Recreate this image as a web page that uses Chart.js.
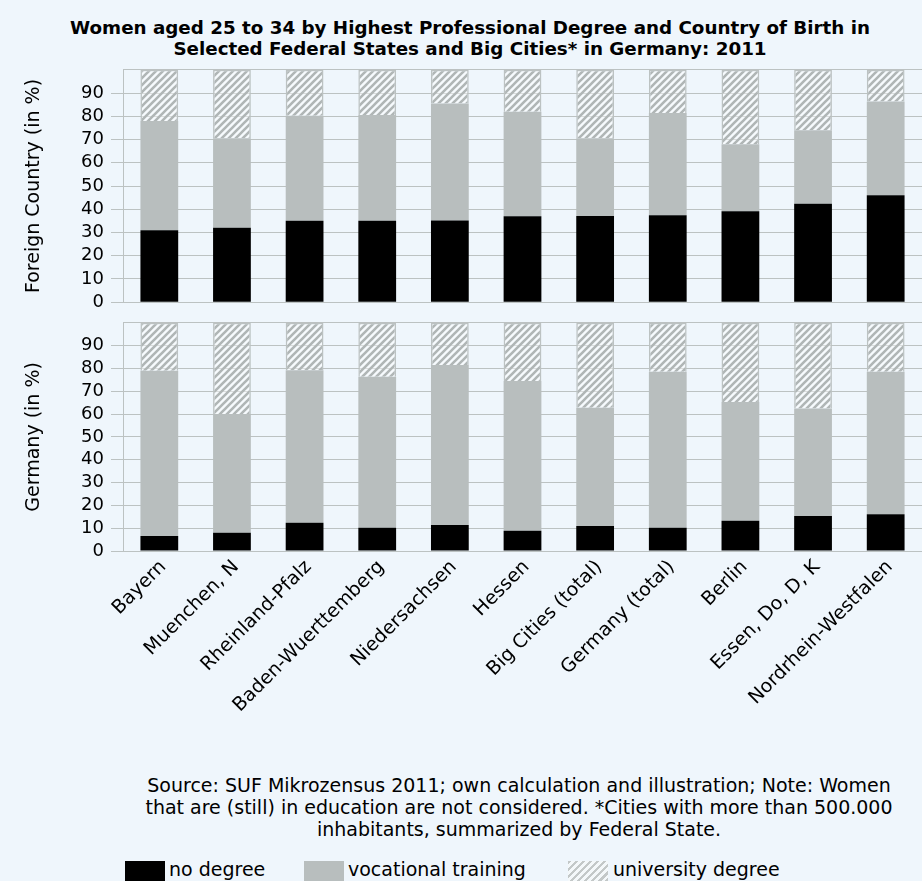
<!DOCTYPE html>
<html>
<head>
<meta charset="utf-8">
<script src="https://cdn.jsdelivr.net/npm/chart.js@4.4.1/dist/chart.umd.min.js"></script>
<style>
  body { margin: 0; background: #eff6fc; font-family: "DejaVu Sans", sans-serif; color: #000; }
  #page { position: relative; width: 922px; height: 881px; overflow: hidden; }
  #title { position: absolute; left: 0; top: 17px; width: 940px; text-align: center; font-weight: bold; font-size: 18.3px; line-height: 21px; }
  #topChart { position: absolute; left: 0; top: 52px; }
  #bottomChart { position: absolute; left: 0; top: 305px; }
  #source { position: absolute; left: 0; top: 774px; width: 1038px; text-align: center; font-size: 19px; line-height: 22px; }
  .leg { position: absolute; top: 858px; font-size: 19px; line-height: 22px; white-space: nowrap; }
  .sw { position: absolute; top: 861px; width: 40px; height: 20px; }
</style>
</head>
<body>
<div id="page">
  <div id="title">Women aged 25 to 34 by Highest Professional Degree and Country of Birth in<br>Selected Federal States and Big Cities* in Germany: 2011</div>
  <canvas id="topChart" width="922" height="268"></canvas>
  <canvas id="bottomChart" width="922" height="430"></canvas>
  <div id="source">Source: SUF Mikrozensus 2011; own calculation and illustration; Note: Women<br>that are (still) in education are not considered. *Cities with more than 500.000<br>inhabitants, summarized by Federal State.</div>
  <div class="sw" style="left:125px;background:#000"></div>
  <div class="leg" style="left:169px">no degree</div>
  <div class="sw" style="left:304px;background:#b8bebe"></div>
  <div class="leg" style="left:348px">vocational training</div>
  <div class="sw" style="left:568px;background:repeating-linear-gradient(135deg,#c3c8c8 0 2.5px,#f4f8fa 2.5px 5px)"></div>
  <div class="leg" style="left:613px">university degree</div>
</div>
<script>
// DATA
const categories = ["Bayern", "Muenchen, N", "Rheinland-Pfalz", "Baden-Wuerttemberg", "Niedersachsen", "Hessen",
  "Big Cities (total)", "Germany (total)", "Berlin", "Essen, Do, D, K", "Nordrhein-Westfalen"];
const yTicks = [0, 10, 20, 30, 40, 50, 60, 70, 80, 90];

// born in a foreign country
const foreignNoDegree = [31, 32, 35, 35, 35.2, 37, 37.1, 37.4, 39.1, 42.4, 46];
const foreignVocational = [47, 38.6, 45.2, 45.6, 50.3, 45, 33.5, 44, 28.9, 31.6, 40.4];
const foreignUniversity = [22, 29.4, 19.8, 19.4, 14.5, 18, 29.4, 18.6, 32, 26, 13.6];

// born in Germany
const germanNoDegree = [6.6, 8, 12.4, 10.2, 11.4, 8.9, 11, 10.2, 13.3, 15.3, 16.1];
const germanVocational = [72.4, 52, 66.8, 66.2, 70.1, 65.6, 51.8, 68.3, 52, 47.2, 62.4];
const germanUniversity = [21, 40, 20.8, 23.6, 18.5, 25.5, 37.2, 21.5, 34.7, 37.5, 21.5];

const FONT = "DejaVu Sans";
const GRID = "#bcc2c2";

// diagonal hatch for university degree
function hatch() {
  const c = document.createElement("canvas");
  c.width = 7; c.height = 7;
  const g = c.getContext("2d");
  g.fillStyle = "rgba(255,255,255,0.45)";
  g.fillRect(0, 0, 7, 7);
  g.strokeStyle = "#b0b6b6";
  g.lineWidth = 2.6;
  g.beginPath();
  g.moveTo(-1, 8); g.lineTo(8, -1);
  g.moveTo(-1, 1); g.lineTo(1, -1);
  g.moveTo(6, 8); g.lineTo(8, 6);
  g.stroke();
  return g.createPattern(c, "repeat");
}

function makeChart(id, noDeg, voc, uni, yTitle, showX) {
  const ctx = document.getElementById(id);
  const xAxis = {
    stacked: true,
    display: showX,
    grid: { display: false, drawTicks: false },
    border: { display: false },
    ticks: {
      autoSkip: false, minRotation: 45, maxRotation: 45,
      padding: 5, labelOffset: 4, color: "#000",
      font: { family: FONT, size: 19 },
    },
  };
  if (showX) xAxis.afterFit = (a) => { a.height = 184; a.paddingLeft = 0; a.paddingRight = 0; };

  return new Chart(ctx, {
    type: "bar",
    data: {
      labels: categories,
      datasets: [
        { label: "no degree", data: noDeg, backgroundColor: "#000", borderWidth: 0 },
        { label: "vocational training", data: voc, backgroundColor: "#b8bebe", borderWidth: 0 },
        { label: "university degree", data: uni, backgroundColor: hatch(), borderColor: GRID, borderWidth: 1.5 },
      ],
    },
    options: {
      responsive: false,
      animation: false,
      layout: { padding: { top: 11, bottom: showX ? 0 : 16, left: 0, right: 0 } },
      datasets: { bar: { categoryPercentage: 1, barPercentage: 0.52 } },
      plugins: { legend: { display: false }, tooltip: { enabled: false } },
      scales: {
        x: xAxis,
        y: {
          stacked: true,
          min: 0, max: 100,
          ticks: {
            stepSize: 10, autoSkip: false, padding: 7, color: "#000",
            font: { family: FONT, size: 18 },
            callback: (v) => (yTicks.includes(v) ? v : ""),
          },
          grid: {
            color: GRID,
            tickLength: 12,
            tickColor: (c) => (c.tick && c.tick.value === 100 ? "rgba(0,0,0,0)" : GRID),
          },
          border: { color: GRID },
          title: {
            display: true, text: yTitle, color: "#000",
            font: { family: FONT, size: 19 },
            padding: { top: 23, bottom: 0 },
          },
          afterFit: (a) => { a.width = 123; },
        },
      },
    },
  });
}

makeChart("topChart", foreignNoDegree, foreignVocational, foreignUniversity, "Foreign Country (in %)", false);
makeChart("bottomChart", germanNoDegree, germanVocational, germanUniversity, "Germany (in %)", true);
</script>
</body>
</html>
